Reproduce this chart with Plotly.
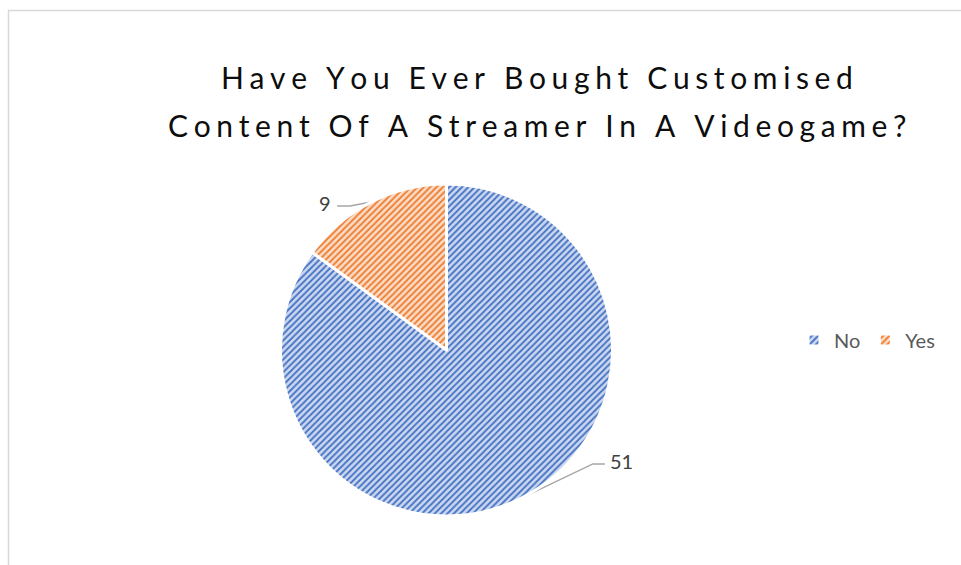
import math
import plotly.graph_objects as go

# Survey answers
answers = ["No", "Yes"]
counts = [51, 9]

title_lines = ["Have You Ever Bought Customised",
               "Content Of A Streamer In A Videogame?"]

# Styling
W, H = 961, 565
slice_fg = ["#4472C4", "#ED7D31"]
slice_bg = ["#CCD8EF", "#FBDCC7"]
label_color = "#404040"
legend_color = "#595959"
leader_color = "#A6A6A6"

# Pie geometry in pixels
cx, cy, rad = 446.5, 350, 166
# Leader-line offsets (elbow dx, dy, horizontal run) per slice
elbow = [(71, -34, 12), (-21, 4, -13)]


def spaced(s):
    # widen the tracking of the title by interleaving thin + hair spaces
    return "\u2009\u200a".join(s)


fig = go.Figure()

fig.add_trace(go.Pie(
    labels=answers,
    values=counts,
    sort=False,
    direction="clockwise",
    rotation=0,
    textinfo="none",
    hoverinfo="label+value",
    marker=dict(
        colors=slice_fg,
        line=dict(color="white", width=3),
        pattern=dict(shape=["/", "/"], fgcolor=slice_fg, bgcolor=slice_bg,
                     size=4.5, solidity=0.4),
    ),
    domain=dict(x=[(cx - rad) / W, (cx + rad) / W],
                y=[1 - (cy + rad) / H, 1 - (cy - rad) / H]),
    showlegend=True,
))

# Leader lines and value labels, placed from each slice's mid angle
total = sum(counts)
start = 0.0
annotations = []
for i, v in enumerate(counts):
    span = 360.0 * v / total
    mid = math.radians(start + span / 2)
    start += span
    ex = cx + rad * math.sin(mid)
    ey = cy - rad * math.cos(mid)
    dx, dy, run = elbow[i]
    bx, by = ex + dx, ey + dy
    hx = bx + run
    fig.add_trace(go.Scatter(
        x=[ex, bx, hx], y=[ey, by, by], mode="lines",
        line=dict(color=leader_color, width=1.5),
        hoverinfo="skip", showlegend=False, xaxis="x", yaxis="y",
    ))
    annotations.append(dict(
        x=hx + (3 if run > 0 else -4), y=by - 3, xref="x", yref="y",
        text=str(v), showarrow=False,
        xanchor="left" if run > 0 else "right", yanchor="middle",
        font=dict(family="Lato, 'Open Sans', sans-serif", size=20, color=label_color),
    ))

# Title lines
for j, line in enumerate(title_lines):
    annotations.append(dict(
        x=537, y=77 + 48 * j, xref="x", yref="y",
        text=spaced(line), showarrow=False,
        xanchor="center", yanchor="middle",
        font=dict(family="Lato, 'Open Sans', sans-serif", size=30, color="#0D0D0D"),
    ))

fig.update_layout(
    width=W, height=H,
    margin=dict(l=0, r=0, t=0, b=0),
    paper_bgcolor="white",
    plot_bgcolor="rgba(0,0,0,0)",
    xaxis=dict(range=[0, W], visible=False, fixedrange=True, domain=[0, 1]),
    yaxis=dict(range=[H, 0], visible=False, fixedrange=True, domain=[0, 1]),
    annotations=annotations,
    legend=dict(
        orientation="h", x=794 / W, y=1 - 340 / H,
        xanchor="left", yanchor="middle",
        font=dict(family="Lato, 'Open Sans', sans-serif", size=20, color=legend_color),
        itemwidth=30, bgcolor="rgba(0,0,0,0)",
    ),
    shapes=[dict(
        type="rect", xref="x", yref="y",
        x0=8.5, y0=10.5, x1=W + 5, y1=H + 5,
        line=dict(color="#D9D9D9", width=1.5),
    )],
)

fig.write_html("out.html")
